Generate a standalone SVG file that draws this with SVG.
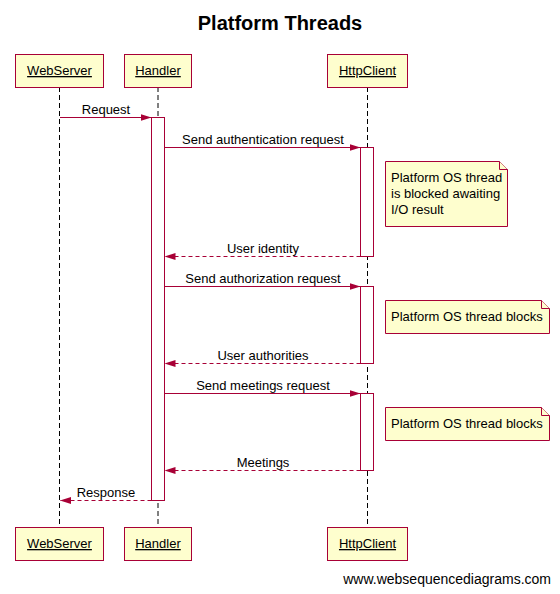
<svg xmlns="http://www.w3.org/2000/svg" width="560" height="594" viewBox="0 0 560 594">
<style>
.box{fill:#FEFECE;stroke:#A80036;stroke-width:1}
.act{fill:#FFFFFF;stroke:#A80036;stroke-width:1}
.life{stroke:#000;stroke-width:1;stroke-dasharray:5,3;fill:none}
.msg{stroke:#A80036;stroke-width:1;fill:none;marker-end:url(#ah)}
.ret{stroke:#A80036;stroke-width:1;fill:none;stroke-dasharray:4,3;marker-end:url(#ah)}
.t{font-family:"Liberation Sans",Arial,sans-serif;font-size:13px;fill:#000}
.p{font-family:"Liberation Sans",Arial,sans-serif;font-size:13px;fill:#000;text-anchor:middle;text-decoration:underline}
.c{text-anchor:middle}
.note{fill:#FEFECE;stroke:#A80036;stroke-width:1}
</style>
<defs>
<marker id="ah" markerUnits="userSpaceOnUse" markerWidth="12" markerHeight="8" refX="11" refY="4" orient="auto">
<path d="M0,0.5 L11,4 L0,7.5 Z" fill="#A80036"/>
</marker>
</defs>
<rect width="560" height="594" fill="#fff"/>
<text x="280" y="29.5" text-anchor="middle" font-family="'Liberation Sans',Arial,sans-serif" font-size="20" font-weight="bold">Platform Threads</text>

<g id="lifelines">
<line class="life" x1="59.5" y1="87" x2="59.5" y2="527"/>
<line class="life" x1="158" y1="87" x2="158" y2="527"/>
<line class="life" x1="367.5" y1="87" x2="367.5" y2="527"/>
</g>

<g id="WebServer">
<rect class="box" x="15.5" y="54.5" width="88" height="33"/>
<text class="p" x="59.5" y="75">WebServer</text>
<rect class="box" x="15.5" y="527.5" width="88" height="33"/>
<text class="p" x="59.5" y="548">WebServer</text>
</g>
<g id="Handler">
<rect class="box" x="124.5" y="54.5" width="67" height="33"/>
<text class="p" x="158" y="75">Handler</text>
<rect class="box" x="124.5" y="527.5" width="67" height="33"/>
<text class="p" x="158" y="548">Handler</text>
<rect class="act" x="151.5" y="117.5" width="13" height="383"/>
</g>
<g id="HttpClient">
<rect class="box" x="327.5" y="54.5" width="80" height="33"/>
<text class="p" x="367.5" y="75">HttpClient</text>
<rect class="box" x="327.5" y="527.5" width="80" height="33"/>
<text class="p" x="367.5" y="548">HttpClient</text>
<rect class="act" x="360.5" y="147.5" width="13" height="109"/>
<rect class="act" x="360.5" y="286.5" width="13" height="77"/>
<rect class="act" x="360.5" y="393.5" width="13" height="77"/>
</g>

<g id="notes">
<g id="note1">
<path class="note" d="M385.5,161.5 H499.5 L507.5,169.5 V226.5 H385.5 Z"/>
<path d="M499.5,161.5 V169.5 H507.5" fill="#FEFECE" stroke="#A80036"/>
<text class="t" x="391" y="182">Platform OS thread</text>
<text class="t" x="391" y="198">is blocked awaiting</text>
<text class="t" x="391" y="214">I/O result</text>
</g>
<g id="note2">
<path class="note" d="M385.5,300.5 H541.5 L549.5,308.5 V333.5 H385.5 Z"/>
<path d="M541.5,300.5 V308.5 H549.5" fill="#FEFECE" stroke="#A80036"/>
<text class="t" x="391" y="321">Platform OS thread blocks</text>
</g>
<g id="note3">
<path class="note" d="M385.5,407.5 H541.5 L549.5,415.5 V440.5 H385.5 Z"/>
<path d="M541.5,407.5 V415.5 H549.5" fill="#FEFECE" stroke="#A80036"/>
<text class="t" x="391" y="428">Platform OS thread blocks</text>
</g>
</g>

<g id="connectors">
<line class="msg" x1="60" y1="117.5" x2="151.5" y2="117.5"/>
<text class="t c" x="106" y="113.5">Request</text>
<line class="msg" x1="164.5" y1="147.5" x2="360.5" y2="147.5"/>
<text class="t c" x="263" y="143.5">Send authentication request</text>
<line class="ret" x1="360.5" y1="256.5" x2="164.5" y2="256.5"/>
<text class="t c" x="263" y="252.5">User identity</text>
<line class="msg" x1="164.5" y1="286.5" x2="360.5" y2="286.5"/>
<text class="t c" x="263" y="282.5">Send authorization request</text>
<line class="ret" x1="360.5" y1="363.5" x2="164.5" y2="363.5"/>
<text class="t c" x="263" y="359.5">User authorities</text>
<line class="msg" x1="164.5" y1="393.5" x2="360.5" y2="393.5"/>
<text class="t c" x="263" y="389.5">Send meetings request</text>
<line class="ret" x1="360.5" y1="470.5" x2="164.5" y2="470.5"/>
<text class="t c" x="263" y="466.5">Meetings</text>
<line class="ret" x1="151.5" y1="500.5" x2="60" y2="500.5"/>
<text class="t c" x="106" y="496.5">Response</text>
</g>

<text x="551" y="584" text-anchor="end" font-family="'Liberation Sans',Arial,sans-serif" font-size="14" fill="#000">www.websequencediagrams.com</text>
</svg>
